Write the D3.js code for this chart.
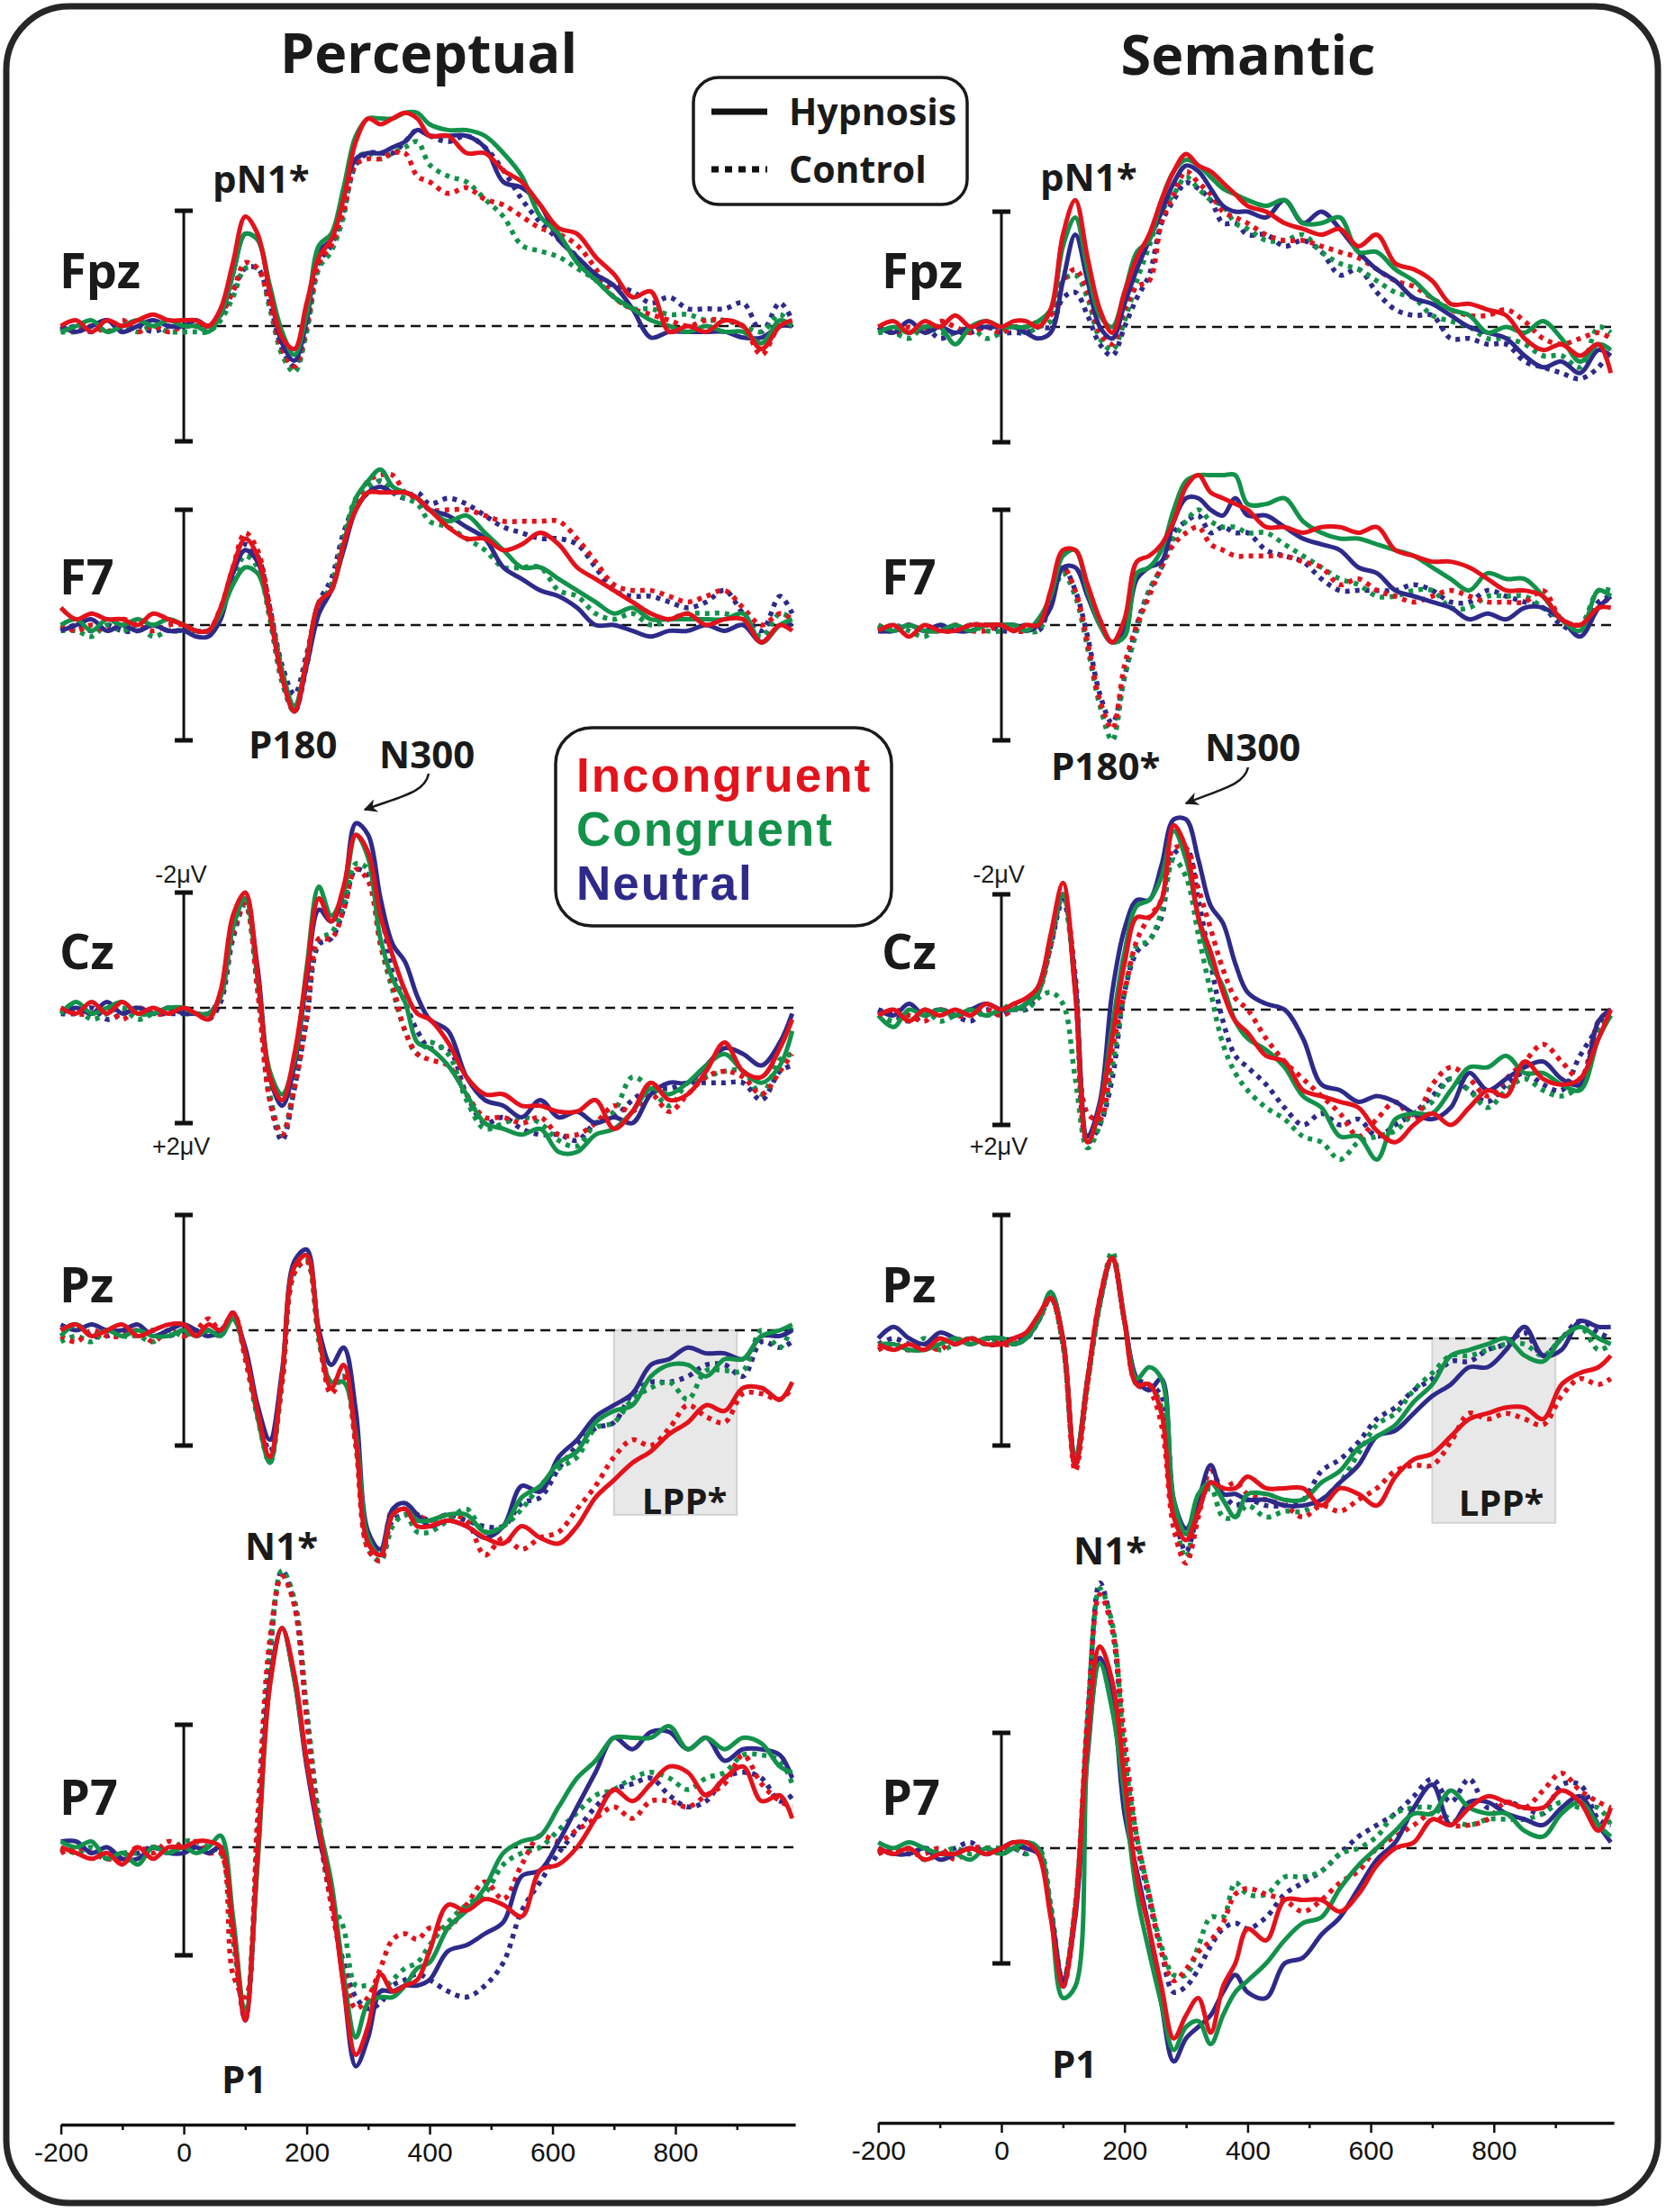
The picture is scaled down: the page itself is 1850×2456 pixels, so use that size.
<!DOCTYPE html>
<html>
<head>
<meta charset="utf-8">
<script src="https://cdn.jsdelivr.net/npm/d3@7"></script>
<style>
body { margin: 0; background: #fff; }
svg { display: block; }
</style>
</head>
<body>
<svg id="chart"></svg>
<script>
// sample times (ms) shared by every waveform
const times = [-200,-175,-150,-125,-100,-75,-50,-25,0,
  20,40,60,80,100,120,140,160,180,200,220,240,260,280,300,320,340,360,380,400,
  430,460,490,520,550,580,610,640,670,700,730,760,790,820,850,880,910,940,970,990]

const tasks = ["Perceptual", "Semantic"]
const electrodes = ["Fpz", "F7", "Cz", "Pz", "P7"]
const conditions = ["Incongruent", "Congruent", "Neutral"]
const groups = ["Hypnosis", "Control"]
const xTicks = [-200,-100,0,100,200,300,400,500,600,700,800,900]
const xLabels = ["-200", "0", "200", "400", "600", "800"]

// amplitudes in microvolts (negative plotted up)
// ---- Perceptual ----
const percFpzHypInc = [0,-0.1,0.1,-0.1,0,-0.1,-0.2,-0.1,-0.1,
  -0.1,0,-0.3,-1.1,-1.9,-1.6,-0.6,0.2,0.4,-0.4,-1.2,-1.5,-2.2,-3.2,-3.6,-3.5,-3.6,-3.7,-3.6,-3.3,
  -3.3,-3.0,-3.0,-2.7,-2.5,-2.1,-1.7,-1.6,-1.2,-0.9,-0.5,-0.6,0.1,0,0.1,-0.1,0,0.4,0,-0.1]
const percFpzHypCon = [0.1,0,-0.1,0.1,0,-0.1,0,-0.1,0,
  0,0.1,-0.2,-0.9,-1.6,-1.5,-0.7,0.1,0.5,-0.2,-1.4,-1.6,-2.4,-3.3,-3.6,-3.6,-3.6,-3.7,-3.7,-3.5,
  -3.4,-3.4,-3.3,-3.0,-2.6,-1.9,-1.6,-1.1,-0.8,-0.5,-0.3,-0.1,0,0.1,0,0.1,0.1,0.3,-0.1,0]
const percFpzHypNeu = [0,0.1,0,-0.1,0.1,0,-0.1,0,0,
  -0.1,0,-0.2,-0.9,-1.6,-1.5,-0.6,0.3,0.6,-0.1,-1.3,-1.5,-2.3,-2.9,-3.0,-3.0,-3.1,-3.2,-3.4,-3.3,
  -3.3,-3.3,-3.1,-2.5,-2.4,-2.1,-1.5,-1.2,-0.9,-0.7,-0.3,0.2,0.1,0.1,0.1,0.1,0.2,0.2,0,0]
const percFpzCtlInc = [0,0.1,0,0.1,-0.1,0.1,0,0.1,0,
  0,0,-0.2,-0.6,-1.1,-1.0,-0.4,0.4,0.7,0,-1.1,-1.4,-2.0,-2.8,-2.9,-2.9,-3.0,-3.0,-2.6,-2.5,
  -2.3,-2.4,-2.2,-2.1,-1.9,-1.7,-1.6,-1.4,-1.0,-0.5,-0.3,-0.2,-0.1,0,-0.1,-0.1,0,0.5,0,0]
const percFpzCtlCon = [0.1,0.1,0,0.1,0,0.1,0,0.1,0.1,
  0.1,0.1,-0.1,-0.5,-1.0,-1.0,-0.3,0.5,0.8,0.1,-1.0,-1.3,-1.9,-2.9,-3.0,-2.9,-3.0,-3.1,-3.2,-2.8,
  -2.6,-2.5,-2.2,-1.9,-1.4,-1.3,-1.2,-1.0,-0.8,-0.5,-0.3,-0.3,-0.2,-0.2,-0.1,-0.1,0,0.1,-0.2,0]
const percFpzCtlNeu = [0.1,0,0.1,-0.1,0.1,0,0.1,0,0,
  0,0,-0.2,-0.6,-1.0,-1.0,-0.4,0.4,0.7,0,-1.1,-1.4,-2.0,-2.8,-3.0,-3.0,-3.0,-3.2,-3.4,-3.3,
  -3.2,-3.3,-3.1,-2.7,-2.2,-1.8,-1.5,-1.2,-0.8,-0.7,-0.6,-0.4,-0.5,-0.3,-0.3,-0.3,-0.4,0.1,-0.4,-0.1]

const percF7HypInc = [-0.3,-0.1,-0.2,-0.1,-0.1,0,-0.2,-0.1,0,
  0.1,0.1,-0.3,-1.0,-1.5,-1.2,-0.2,0.9,1.5,0.6,-0.4,-0.6,-1.4,-2.0,-2.3,-2.3,-2.3,-2.3,-2.2,-2.0,
  -1.7,-1.5,-1.5,-1.3,-1.4,-1.6,-1.4,-1.0,-0.8,-0.6,-0.4,-0.2,-0.1,-0.2,0,-0.1,-0.1,0.3,0,0.1]
const percF7HypCon = [0,-0.1,0.1,-0.1,0,-0.1,0,-0.1,0,
  0.1,0.1,-0.2,-0.7,-1.0,-0.9,-0.2,0.8,1.4,0.6,-0.4,-0.6,-1.4,-2.2,-2.5,-2.7,-2.4,-2.3,-2.2,-2.0,
  -1.8,-1.9,-1.6,-1.3,-1.0,-1.0,-0.8,-0.6,-0.4,-0.2,-0.3,-0.1,-0.1,-0.1,-0.1,-0.1,-0.2,0.3,0,-0.1]
const percF7HypNeu = [0.1,0,-0.1,0.1,0,0.1,0,0.1,0.1,
  0.2,0.2,-0.1,-0.9,-1.3,-1.1,-0.2,0.9,1.5,0.7,-0.2,-0.6,-1.3,-2.0,-2.3,-2.4,-2.3,-2.3,-2.2,-2.0,
  -1.9,-1.7,-1.5,-1.0,-0.8,-0.6,-0.5,-0.3,0,0,0.1,0.2,0.1,0.1,0,0.1,0,0.3,0,0]
const percF7CtlInc = [0,0.1,0,0.1,-0.1,0,0.1,0,0,
  0.1,0.1,-0.3,-1.0,-1.6,-1.3,-0.3,0.8,1.5,0.7,-0.3,-0.6,-1.4,-2.1,-2.5,-2.6,-2.6,-2.3,-2.2,-2.0,
  -2.0,-2.0,-1.9,-1.8,-1.8,-1.8,-1.8,-1.5,-1.1,-0.7,-0.6,-0.6,-0.5,-0.4,-0.5,-0.6,-0.3,0,-0.2,-0.1]
const percF7CtlCon = [0.1,0.1,0.2,0,0.1,0,0.2,0.1,0.1,
  0.1,0.1,-0.2,-0.8,-1.2,-1.0,-0.1,1.0,1.5,0.6,-0.3,-0.7,-1.5,-2.2,-2.4,-2.5,-2.3,-2.2,-2.1,-1.8,
  -1.7,-1.5,-1.3,-1.0,-1.0,-1.0,-0.6,-0.5,-0.2,-0.1,-0.2,0,-0.1,-0.2,-0.2,-0.2,-0.1,0.2,-0.2,-0.1]
const percF7CtlNeu = [0.1,0,0.1,0,0.1,0.1,0,0.1,0.1,
  0.1,0.1,-0.2,-0.9,-1.4,-1.2,-0.3,0.7,1.2,0.5,-0.4,-0.8,-1.6,-2.1,-2.3,-2.5,-2.3,-2.2,-2.3,-2.1,
  -2.2,-2.1,-1.9,-1.7,-1.6,-1.5,-1.5,-1.4,-1.0,-0.6,-0.5,-0.5,-0.4,-0.3,-0.4,-0.6,-0.2,0.1,-0.5,-0.2]

const percCzHypInc = [0,0.1,-0.1,0.1,-0.1,0.1,0,0.1,0,
  0.1,0.2,-0.3,-1.6,-2.0,-0.6,1.2,1.6,0.8,-0.6,-1.9,-1.5,-2.1,-3.0,-2.7,-1.6,-0.9,-0.3,0.1,0.2,
  0.6,1.2,1.5,1.5,1.7,1.7,1.8,1.8,1.6,2.1,1.8,1.3,1.6,1.5,1.1,0.6,1.1,1.2,0.7,0.2]
const percCzHypCon = [0.1,-0.1,0.1,0,-0.1,0.1,0.1,0,0,
  0.1,0.1,-0.2,-1.4,-1.9,-0.5,1.1,1.5,0.9,-0.7,-2.1,-1.6,-2.0,-3.0,-2.6,-1.2,-0.5,-0.1,0.6,0.7,
  1.0,1.5,2.0,2.1,2.2,2.1,2.5,2.5,2.2,2.1,1.8,1.4,1.5,1.3,1.0,0.8,1.1,1.3,1.0,0.4]
const percCzHypNeu = [0.1,0,0.1,-0.1,0.1,0,0.1,0,0.1,
  0.1,0.1,-0.2,-1.4,-1.9,-0.7,1.2,1.7,1.0,-0.5,-1.7,-1.5,-2.0,-3.2,-3.0,-1.9,-1.1,-0.8,-0.2,0.2,
  0.4,1.2,1.6,1.7,1.9,1.6,1.9,1.8,2.0,1.9,2.0,1.5,1.3,1.3,1.0,0.7,0.8,1.0,0.6,0.1]
const percCzCtlInc = [0,0.1,0.1,0,0.2,0,0.1,0.1,0,
  0.1,0.1,-0.2,-1.3,-1.8,-0.3,1.6,2.2,1.4,0.2,-1.2,-1.2,-1.7,-2.4,-2.2,-1.1,-0.4,0.4,0.8,0.9,
  1.0,1.5,1.9,1.9,2.0,1.9,2.2,2.2,2.0,1.7,1.8,1.5,1.8,1.5,1.2,1.1,1.2,1.5,1.1,0.8]
const percCzCtlCon = [0.1,0,0.2,0.1,0,0.2,0.1,0,0.1,
  0.1,0.1,-0.2,-1.3,-1.8,-0.4,1.5,2.2,1.3,0.1,-1.2,-1.3,-1.8,-2.5,-2.4,-1.1,-0.3,0.4,0.8,0.6,
  0.8,1.6,2.1,2.0,1.9,2.0,2.3,2.4,2.0,1.8,1.2,1.4,1.7,1.3,1.2,1.1,1.1,1.5,0.9,0.8]
const percCzCtlNeu = [0.1,0.1,0,0.2,0.1,0,0.1,0.1,0.1,
  0.1,0.2,-0.1,-1.2,-1.8,-0.4,1.6,2.3,1.4,0.2,-1.1,-1.2,-1.7,-2.4,-2.3,-1.7,-0.6,-0.1,0.4,0.7,
  0.7,1.5,2.0,1.9,2.1,2.2,2.2,2.3,2.0,1.9,1.6,1.4,1.4,1.3,1.3,1.3,1.3,1.6,1.1,1.0]

const percPzHypInc = [0,-0.1,0.1,0,-0.1,0.1,0,-0.1,-0.1,
  0.1,-0.1,0,-0.3,0.4,1.4,2.2,0.8,-1.1,-1.3,0.1,1.0,0.6,1.9,3.7,3.9,3.2,3.1,3.4,3.4,
  3.3,3.4,3.6,3.7,3.4,3.6,3.7,3.4,2.9,2.6,2.3,2.1,1.8,1.6,1.3,1.4,1.0,1.0,1.2,0.9]
const percPzHypCon = [0.1,-0.1,0.1,0,0.1,0,0.1,0.1,0,
  0.1,0,0.1,-0.2,0.4,1.5,2.3,0.8,-1.1,-1.3,0.1,0.9,0.9,1.8,3.6,3.9,3.2,3.1,3.3,3.3,
  3.2,3.2,3.5,3.4,2.9,2.7,2.3,2.1,1.6,1.4,1.3,0.8,0.6,0.6,0.8,0.5,0.5,0.1,0,-0.1]
const percPzHypNeu = [-0.1,0,-0.1,0,0,-0.1,0.1,0,-0.1,
  0,0.1,0,-0.2,0.3,1.3,1.9,0.7,-1.2,-1.4,0,0.6,0.3,1.4,3.5,3.8,3.1,3.0,3.2,3.4,
  3.3,3.4,3.6,3.4,2.7,2.8,2.2,1.9,1.5,1.3,1.1,0.6,0.5,0.3,0.4,0.4,0.5,0.1,0.1,0]
const percPzCtlInc = [0.1,0.2,0,0.1,0.1,0,0.2,0,0.1,
  0,-0.2,0,-0.3,0.5,1.5,2.2,0.9,-1.0,-1.2,0.1,1.1,0.8,2.0,3.8,4.0,3.1,3.1,3.2,3.3,
  3.2,3.3,3.9,3.6,3.8,3.6,3.5,3.1,2.7,2.2,1.9,2.0,1.7,1.3,1.5,1.6,1.1,1.1,1.2,1.0]
const percPzCtlCon = [0.2,0.1,0.2,0,0.1,0.1,0.2,0,0.1,
  0,0.1,0,-0.2,0.4,1.5,2.3,0.9,-1.0,-1.2,0.2,1.0,0.8,2.0,3.8,4.0,3.4,3.2,3.5,3.5,
  3.3,3.1,3.5,3.4,3.1,2.7,2.4,2.2,1.7,1.6,1.2,1.0,0.9,1.2,0.7,0.7,0.7,0,0.3,-0.1]
const percPzCtlNeu = [0,-0.1,0.1,0.1,0,0.1,0,0.1,0,
  0.1,0,0.1,-0.3,0.4,1.4,2.1,0.9,-1.0,-1.2,0.1,0.9,0.8,1.9,3.6,3.9,3.3,3.2,3.2,3.3,
  3.2,3.3,3.4,3.4,3.0,2.9,2.4,2.0,1.7,1.6,1.1,0.9,0.9,0.8,0.6,0.6,0.8,0.2,0.3,0.2]

const percP7HypInc = [0,0.1,0.2,0.1,0.3,0,0.2,0,0,
  -0.1,-0.1,0,1.4,3.0,0.1,-2.8,-3.8,-3.0,-1.5,-0.3,0.8,2.4,3.6,3.1,2.2,2.5,2.4,2.3,1.8,
  1.0,1.1,0.9,1.0,1.2,0.4,0.3,0,-0.5,-1.0,-0.8,-1.1,-1.4,-1.3,-0.9,-1.2,-1.4,-0.8,-0.9,-0.5]
const percP7HypCon = [-0.1,0,-0.1,0.2,0.1,0.3,0,0.1,0,
  0.1,0,-0.2,1.2,2.9,0.3,-2.8,-3.8,-2.9,-1.5,-0.4,0.6,2.2,3.3,2.7,2.6,2.6,2.4,2.1,2.0,
  1.4,1.1,0.7,0.1,-0.1,-0.2,-0.7,-1.2,-1.5,-1.9,-1.9,-1.9,-2.1,-1.7,-1.9,-1.7,-1.9,-1.8,-1.4,-1.3]
const percP7HypNeu = [-0.1,-0.1,0.1,0,0.2,0.2,0,0.1,0.1,
  0,0.1,0,1.3,3.0,0.2,-2.9,-3.8,-2.9,-1.4,-0.2,0.8,2.4,3.8,3.3,2.5,2.5,2.4,2.4,2.3,
  1.8,1.7,1.5,1.3,0.5,0.4,-0.1,-0.7,-1.3,-1.9,-1.7,-2.0,-2.0,-1.7,-1.9,-1.5,-1.7,-1.7,-1.6,-1.2]
const percP7CtlInc = [0.1,0,0.1,0.2,0.2,0,0.1,-0.1,0,
  -0.1,0.1,0.1,2.2,2.6,-0.5,-3.6,-4.7,-4.2,-2.2,-0.3,1.0,2.1,2.8,2.6,2.1,1.6,1.5,1.6,1.4,
  1.4,1.0,0.6,0.9,0.3,-0.2,-0.1,-0.3,-0.5,-0.7,-0.5,-0.8,-0.8,-0.7,-0.9,-1.1,-1.6,-1.1,-0.8,-0.7]
const percP7CtlCon = [0,0.1,0,0.2,0.1,0.1,0,0.1,-0.1,
  -0.1,0,0.1,1.6,2.9,-0.2,-3.4,-4.8,-4.3,-2.4,-0.5,0.9,1.4,2.4,2.4,2.5,2.3,2.1,2.0,1.7,
  1.3,1.0,0.8,0.3,0.1,0,-0.3,-0.6,-0.9,-1.0,-1.2,-1.3,-1.2,-1.0,-1.2,-1.3,-1.6,-1.6,-1.5,-1.1]
const percP7CtlNeu = [0.1,0,0.1,0.1,0.2,0.1,0,0.1,0,
  0,0.1,0,1.5,3.0,0,-3.3,-4.8,-4.2,-2.3,-0.4,1.0,2.0,2.6,2.8,2.7,2.4,2.3,2.2,2.3,
  2.5,2.6,2.4,2.0,1.1,0.6,0.1,-0.3,-0.7,-1.0,-1.1,-1.2,-0.9,-0.7,-0.8,-1.2,-1.3,-1.2,-0.8,-0.9]

// ---- Semantic ----
const semFpzHypInc = [0,-0.1,0.1,-0.1,0,-0.2,0,-0.1,0,
  -0.1,-0.1,0,-0.3,-1.6,-2.2,-1.2,-0.3,0.1,-0.6,-1.2,-1.6,-2.2,-2.7,-3.0,-2.8,-2.7,-2.5,-2.3,-2.1,
  -2.0,-1.8,-1.7,-1.6,-1.7,-1.4,-1.6,-1.1,-1.0,-0.8,-0.4,-0.4,-0.3,-0.2,0.2,0.4,0.3,0.5,0.3,0.8]
const semFpzHypCon = [0.1,0,0.1,0,0,0.3,0,-0.1,0,
  0,0,-0.1,-0.3,-1.4,-1.9,-1.0,-0.2,0,-0.6,-1.3,-1.5,-2.2,-2.7,-2.9,-2.8,-2.6,-2.4,-2.3,-2.2,
  -2.1,-2.2,-1.8,-1.8,-1.9,-1.3,-1.3,-1.0,-0.8,-0.5,-0.3,-0.2,0.1,0,0.1,-0.1,0.2,0.6,0.3,0.4]
const semFpzHypNeu = [0,0.1,-0.1,0.1,0,0.1,0,0,0,
  0,0.1,0.2,0.1,-0.8,-1.6,-0.8,0,0.2,-0.4,-1.0,-1.5,-2.0,-2.5,-2.8,-2.7,-2.4,-2.1,-2.0,-2.0,
  -1.9,-2.2,-1.8,-2.0,-1.7,-1.3,-1.0,-0.8,-0.5,-0.4,-0.2,0,0.1,0.2,0.5,0.7,0.6,0.8,0.4,0.5]
const semFpzCtlInc = [0,0.1,0,0.1,-0.1,0,0.1,0,0.1,
  0,0,-0.1,-0.2,-0.8,-1.0,-0.6,0.1,0.3,-0.3,-0.7,-0.8,-1.8,-2.3,-2.7,-2.5,-2.3,-2.0,-1.9,-1.8,
  -1.6,-1.5,-1.5,-1.4,-1.3,-1.2,-1.0,-0.8,-0.7,-0.5,-0.3,-0.2,-0.2,-0.3,-0.1,0.2,0.3,0.2,0.1,0.2]
const semFpzCtlCon = [0.1,0.1,0.2,0,0.1,0.1,0,0.2,0.1,
  0,0.1,0,-0.1,-0.8,-0.9,-0.5,0.2,0.4,-0.1,-0.8,-1.4,-2.0,-2.3,-2.6,-2.4,-2.2,-2.1,-1.8,-1.7,
  -1.5,-1.5,-1.6,-1.3,-1.1,-1.0,-0.8,-0.6,-0.5,-0.2,-0.1,0,0.2,0.2,0.3,0.5,0.5,0.7,0,0.1]
const semFpzCtlNeu = [0,0.1,0.1,0,0.2,0.1,0.1,0,0.1,
  0.1,0.1,0,0,-0.5,-0.6,-0.2,0.3,0.5,0,-0.5,-0.9,-1.8,-2.2,-2.5,-2.4,-2.2,-1.8,-1.8,-1.6,
  -1.6,-1.4,-1.5,-1.3,-0.9,-1.0,-0.6,-0.3,-0.2,-0.2,0.2,0.2,0.3,0.3,0.6,0.7,0.8,0.9,0.7,0.4]

const semF7HypInc = [0.1,0,0.2,0,0.1,0.1,0,0,0,
  0.1,0,0,-0.6,-1.3,-1.3,-0.7,-0.1,0.3,-0.1,-1.1,-1.2,-1.4,-1.8,-2.4,-2.6,-2.3,-2.2,-2.1,-2.0,
  -1.7,-1.7,-1.6,-1.7,-1.7,-1.6,-1.7,-1.3,-1.2,-1.1,-1.1,-1.0,-0.8,-0.6,-0.6,-0.5,-0.1,0,-0.3,-0.3]
const semF7HypCon = [0,0.1,0,0.1,0.1,0,0.1,0,0,
  0,0.1,-0.1,-0.5,-1.2,-1.3,-0.6,0,0.3,0.2,-0.9,-1.0,-1.3,-2.0,-2.5,-2.6,-2.6,-2.6,-2.6,-2.1,
  -2.1,-2.2,-1.8,-1.6,-1.5,-1.5,-1.4,-1.3,-1.2,-1.0,-0.8,-0.6,-0.9,-0.8,-0.8,-0.5,-0.1,0.1,-0.6,-0.5]
const semF7HypNeu = [0.1,0.1,0,0.1,0,0.1,0.1,0,0,
  0,0.1,0,-0.3,-1.0,-1.0,-0.5,0,0.3,0.1,-0.8,-1.0,-1.1,-1.8,-2.2,-2.2,-2.0,-1.9,-2.2,-1.9,
  -1.9,-1.7,-1.5,-1.4,-1.3,-1.0,-0.9,-0.6,-0.5,-0.4,-0.3,-0.1,-0.2,-0.1,-0.3,-0.3,-0.1,0.2,-0.3,-0.5]
const semF7CtlInc = [0,0.1,0,0.1,0.1,0,0.1,0.1,0,
  0.1,0.1,0,-0.5,-1.0,-0.6,0.3,1.3,1.8,0.7,0,-0.5,-1.0,-1.4,-1.6,-1.7,-1.4,-1.3,-1.2,-1.2,
  -1.2,-1.2,-1.1,-1.0,-0.7,-0.8,-0.6,-0.5,-0.4,-0.5,-0.6,-0.5,-0.4,-0.4,-0.4,-0.6,-0.1,0,-0.3,-0.5]
const semF7CtlCon = [0.1,0,0.1,0.2,0,0.1,0,0.1,0.1,
  0,0.1,0.1,-0.4,-0.9,-0.5,0.4,1.4,2.0,0.9,0.1,-0.6,-1.0,-1.5,-1.8,-2.0,-1.8,-1.7,-1.7,-1.6,
  -1.6,-1.4,-1.2,-1.0,-0.8,-0.7,-0.5,-0.5,-0.6,-0.6,-0.3,-0.3,-0.5,-0.5,-0.5,-0.3,-0.1,0,-0.6,-0.6]
const semF7CtlNeu = [0.1,0.1,0,0.1,0.1,0.1,0,0,0.1,
  0.1,0,0.1,-0.4,-1.0,-0.6,0.2,1.2,1.7,0.9,0,-0.6,-1.0,-1.6,-1.8,-1.9,-1.6,-1.7,-1.6,-1.6,
  -1.3,-1.2,-1.1,-0.8,-0.6,-0.6,-0.6,-0.6,-0.7,-0.6,-0.4,-0.4,-0.6,-0.5,-0.4,-0.3,0,0.1,-0.4,-0.5]

const semCzHypInc = [0.1,0,0.2,0,0.1,0,0.1,-0.1,0,
  -0.1,-0.2,-0.4,-1.3,-2.2,-0.3,2.3,1.7,0.5,-0.8,-1.6,-1.6,-1.9,-3.2,-2.8,-1.6,-1.0,-0.3,0.2,0.4,
  0.8,0.9,1.4,1.5,1.6,1.7,2.1,2.3,2.0,1.8,2.0,1.7,1.4,1.5,0.9,1.2,1.3,1.2,0.5,0]
const semCzHypCon = [0.1,0.3,0,0.1,0,0.1,0,0.1,0,
  0,-0.1,-0.3,-1.2,-2.0,-0.3,2.3,1.7,0.3,-1.0,-1.8,-1.9,-2.3,-3.1,-2.6,-1.6,-0.8,-0.4,0.2,0.5,
  0.7,1.0,1.5,1.7,2.2,2.2,2.6,1.9,1.8,1.8,1.4,1.0,1.0,0.8,1.1,1.1,1.3,1.4,0.5,0.1]
const semCzHypNeu = [0,0.1,-0.1,0.1,0,0.1,0,-0.1,0,
  0,-0.1,-0.4,-1.2,-2.0,-0.5,2.2,1.6,-0.3,-1.4,-1.9,-1.9,-2.5,-3.3,-3.3,-2.6,-1.8,-1.5,-0.8,-0.3,
  -0.1,0,0.5,1.3,1.4,1.6,1.5,1.6,1.8,1.9,1.7,1.1,1.4,1.2,1.0,0.9,1.2,1.3,0.2,0]
const semCzCtlInc = [0.1,0,0.1,0.2,0,0.1,0.1,0,0.1,
  0,-0.1,-0.3,-1.1,-2.0,-0.6,1.8,1.9,0.7,-0.3,-1.2,-1.6,-1.9,-2.8,-2.8,-2.1,-1.4,-0.7,-0.2,0,
  0.5,0.9,1.2,1.5,1.8,2.2,1.9,1.6,1.9,1.3,1.0,1.2,1.5,1.2,0.9,0.6,0.9,1.2,0.2,0]
const semCzCtlCon = [0.1,0.2,0.1,0,0.2,0.1,0,0.1,0,
  -0.1,0,-0.2,-0.3,-0.1,1.2,2.4,2.0,1.0,-0.3,-1.1,-1.2,-1.7,-2.6,-2.3,-1.3,-0.3,0.6,1.1,1.4,
  1.7,1.9,2.2,2.3,2.6,2.3,2.2,2.1,1.8,1.6,1.2,1.4,1.7,1.4,1.2,1.4,1.5,1.3,0.4,0.1]
const semCzCtlNeu = [0,0.1,0.2,0.1,0,0.1,0.2,0,0.1,
  0,0,-0.3,-1.1,-1.9,-0.4,2.3,2.0,1.2,-0.3,-1.0,-1.2,-1.6,-2.7,-2.8,-1.9,-0.8,0.2,0.8,1.0,
  1.3,1.7,2.0,1.8,2.0,1.9,2.2,2.0,1.8,1.5,1.2,1.4,1.6,1.3,1.1,1.3,1.4,0.8,0.3,0]

const semPzHypInc = [0.1,0.2,0.1,0.2,0,0.1,0,0.1,0.1,
  0,-0.1,-0.4,-0.7,0,2.2,0.7,-0.7,-1.4,-0.3,0.8,0.8,1.3,3.1,3.5,3.0,2.5,2.6,2.6,2.4,
  2.6,2.6,2.6,2.9,2.6,2.7,2.9,2.4,2.1,2.0,1.7,1.4,1.3,1.2,1.2,1.4,0.8,0.6,0.5,0.3]
const semPzHypCon = [0.1,0.1,0.2,0.2,0.1,0,0.1,0,0,
  0.1,0,-0.3,-0.8,0,2.1,0.7,-0.6,-1.4,-0.3,0.7,0.5,0.7,2.8,3.4,2.7,2.5,2.8,3.1,2.7,
  2.7,2.8,2.8,2.5,2.3,1.9,1.7,1.5,1.1,0.8,0.3,0.2,0.1,0,0.3,0.4,0,-0.2,0,0.1]
const semPzHypNeu = [0,-0.2,0,0.1,-0.1,0,0.1,0,0,
  0.1,0,-0.3,-0.8,0,2.1,0.7,-0.6,-1.4,-0.3,0.7,0.9,0.7,2.8,3.3,2.8,2.2,2.7,2.7,2.8,
  2.8,2.9,2.9,2.8,2.5,2.2,1.7,1.6,1.3,1.0,0.8,0.5,0.5,0.2,-0.2,0.3,0.2,-0.3,-0.2,-0.2]
const semPzCtlInc = [0.2,0.1,0.2,0.1,0.2,0,0.1,0,0.1,
  0.1,-0.1,-0.3,-0.7,0.1,2.3,0.8,-0.7,-1.4,-0.3,0.8,0.9,1.5,3.3,3.9,3.1,2.3,2.6,2.5,2.7,
  2.8,2.9,3.1,2.9,3.0,2.8,2.6,2.3,2.2,2.2,1.8,1.3,1.4,1.3,1.4,1.5,1.0,0.7,0.8,0.7]
const semPzCtlCon = [0.2,0.1,0.2,0,0.2,0.1,0,0.1,0,
  0.1,0,-0.3,-0.7,0.1,2.2,0.8,-0.6,-1.5,-0.3,0.8,0.8,1.2,3.0,3.8,2.9,2.6,3.1,3.1,2.9,
  3.1,3.0,3.0,2.8,2.5,2.0,1.5,1.3,0.9,0.6,0.3,0.3,0.2,0.1,0.1,0.3,0,-0.2,0.2,0.1]
const semPzCtlNeu = [0.1,0,0.1,0.1,0,0.1,0,0.1,0.1,
  0,0,-0.3,-0.7,0.1,2.2,0.7,-0.6,-1.4,-0.3,0.7,0.8,1.0,2.9,3.7,3.0,2.5,2.7,2.9,2.8,
  2.9,2.9,2.8,2.3,2.1,1.8,1.4,1.2,0.9,0.7,0.4,0.4,0.2,0.1,-0.1,0.3,0,-0.3,-0.1,0]

const semP7HypInc = [0,0.1,0,0.2,0.1,0.1,0,0.1,0,
  -0.1,-0.1,0.1,1.2,2.4,1.1,-1.9,-3.5,-2.9,-1.2,0.5,1.4,2.4,3.3,2.9,2.6,3.2,2.4,2.0,1.4,
  1.6,0.9,0.9,0.9,1.1,0.8,0.3,0,-0.1,-0.5,-0.4,-0.7,-0.9,-0.8,-0.7,-0.7,-1.0,-0.8,-0.3,-0.7]
const semP7HypCon = [-0.1,0,-0.1,0,0.1,0.1,0.2,0,0.1,
  0,-0.1,0,1.1,2.6,2.4,-1.7,-3.2,-2.4,-0.9,0.8,1.8,2.7,3.5,3.1,3.0,3.4,2.9,2.5,2.3,
  2.0,1.6,1.3,1.2,0.7,0.3,0,-0.3,-0.6,-0.6,-1.0,-0.7,-0.6,-0.6,-0.3,-0.2,-0.6,-0.8,-0.4,-0.2]
const semP7HypNeu = [0,0.1,0.1,0,0.2,0.1,0,0.1,0,
  -0.1,0,0.1,1.1,2.3,1.2,-1.6,-3.3,-2.6,-0.6,0.4,1.4,2.7,3.7,3.3,3.1,2.9,2.5,2.2,2.5,
  2.6,2.0,1.9,1.5,1.2,0.7,0.2,-0.1,-0.7,-1.1,-0.4,-0.8,-0.8,-0.6,-0.5,-0.4,-0.7,-0.9,-0.4,-0.1]
const semP7CtlInc = [0.1,0,0.1,0.1,0,0.2,0,0,0.1,
  0,0,0.1,1.1,2.3,1.0,-2.3,-4.4,-3.8,-1.9,-0.2,0.8,1.8,2.3,2.1,1.8,1.6,1.3,0.8,0.7,
  0.8,0.9,1.1,0.9,0.6,0.4,0,-0.2,-0.4,-0.6,-0.4,-0.4,-0.5,-0.8,-0.7,-1.0,-1.3,-1.0,-0.8,-0.7]
const semP7CtlCon = [0,0.1,0,0.2,0.1,0,0.1,0,0,
  0,0.1,0,1.0,2.3,1.0,-2.2,-4.5,-3.9,-1.6,-0.2,0.8,1.7,2.2,2.2,1.7,1.2,1.2,0.6,0.8,
  0.8,0.5,0.5,0.4,0.1,0,-0.2,-0.6,-0.7,-0.7,-0.5,-0.4,-0.5,-0.5,-0.5,-0.6,-0.8,-0.7,-0.7,-0.4]
const semP7CtlNeu = [0.1,0,0.1,0,0.1,0,-0.1,0.1,0,
  0,0.1,0,1.0,2.4,1.1,-2.2,-4.6,-3.8,-1.7,-0.1,0.9,1.8,2.5,2.4,2.1,1.7,1.4,1.3,1.4,
  1.2,0.8,0.6,0.4,0.1,-0.2,-0.4,-0.6,-0.9,-1.2,-0.8,-1.2,-0.7,-0.8,-0.7,-0.6,-1.1,-1.1,-0.5,-0.4]

// lookup table: task -> electrode -> group -> condition
const waves = {
  Perceptual: {
    Fpz: {Hypnosis: {Incongruent: percFpzHypInc, Congruent: percFpzHypCon, Neutral: percFpzHypNeu},
          Control:  {Incongruent: percFpzCtlInc, Congruent: percFpzCtlCon, Neutral: percFpzCtlNeu}},
    F7:  {Hypnosis: {Incongruent: percF7HypInc, Congruent: percF7HypCon, Neutral: percF7HypNeu},
          Control:  {Incongruent: percF7CtlInc, Congruent: percF7CtlCon, Neutral: percF7CtlNeu}},
    Cz:  {Hypnosis: {Incongruent: percCzHypInc, Congruent: percCzHypCon, Neutral: percCzHypNeu},
          Control:  {Incongruent: percCzCtlInc, Congruent: percCzCtlCon, Neutral: percCzCtlNeu}},
    Pz:  {Hypnosis: {Incongruent: percPzHypInc, Congruent: percPzHypCon, Neutral: percPzHypNeu},
          Control:  {Incongruent: percPzCtlInc, Congruent: percPzCtlCon, Neutral: percPzCtlNeu}},
    P7:  {Hypnosis: {Incongruent: percP7HypInc, Congruent: percP7HypCon, Neutral: percP7HypNeu},
          Control:  {Incongruent: percP7CtlInc, Congruent: percP7CtlCon, Neutral: percP7CtlNeu}}
  },
  Semantic: {
    Fpz: {Hypnosis: {Incongruent: semFpzHypInc, Congruent: semFpzHypCon, Neutral: semFpzHypNeu},
          Control:  {Incongruent: semFpzCtlInc, Congruent: semFpzCtlCon, Neutral: semFpzCtlNeu}},
    F7:  {Hypnosis: {Incongruent: semF7HypInc, Congruent: semF7HypCon, Neutral: semF7HypNeu},
          Control:  {Incongruent: semF7CtlInc, Congruent: semF7CtlCon, Neutral: semF7CtlNeu}},
    Cz:  {Hypnosis: {Incongruent: semCzHypInc, Congruent: semCzHypCon, Neutral: semCzHypNeu},
          Control:  {Incongruent: semCzCtlInc, Congruent: semCzCtlCon, Neutral: semCzCtlNeu}},
    Pz:  {Hypnosis: {Incongruent: semPzHypInc, Congruent: semPzHypCon, Neutral: semPzHypNeu},
          Control:  {Incongruent: semPzCtlInc, Congruent: semPzCtlCon, Neutral: semPzCtlNeu}},
    P7:  {Hypnosis: {Incongruent: semP7HypInc, Congruent: semP7HypCon, Neutral: semP7HypNeu},
          Control:  {Incongruent: semP7CtlInc, Congruent: semP7CtlCon, Neutral: semP7CtlNeu}}
  }
}

const width = 1850
const height = 2456
const colors = {Incongruent: "#e3121b", Congruent: "#12924a", Neutral: "#2e2a8a"}
const boldFont = "'Open Sans', 'DejaVu Sans', sans-serif"
const plainFont = "'Liberation Sans', Arial, sans-serif"

const layout = {
  Perceptual: {x0: 67.6, x1: 883.1, axisY: 2359, titleX: 476, titleY: 81, labelX: 66,
               base: [362, 694, 1119, 1477, 2051], barShift: [0, 0, 0, 0, -8]},
  Semantic:   {x0: 975.3, x1: 1792.1, axisY: 2357, titleX: 1386, titleY: 83, labelX: 979,
               base: [363, 694, 1121, 1486, 2052], barShift: [0, 0, 0, -9, 0]}
}
const labelY = [320, 660, 1076, 1446, 2015]
const pxPerUv = 64

const svg = d3.select("#chart")
    .attr("width", width)
    .attr("height", height)
    .attr("viewBox", [0, 0, width, height])

svg.append("defs").append("marker")
    .attr("id", "arrow")
    .attr("viewBox", "0 0 10 10")
    .attr("refX", 9).attr("refY", 5)
    .attr("markerWidth", 6).attr("markerHeight", 6)
    .attr("orient", "auto")
  .append("path")
    .attr("d", "M0,0 L10,5 L0,10 L3,5 z")
    .attr("fill", "#1a1a1a")

svg.append("rect")
    .attr("x", 7).attr("y", 7)
    .attr("width", 1834).attr("height", 2439)
    .attr("rx", 70)
    .attr("fill", "#fff")
    .attr("stroke", "#262626")
    .attr("stroke-width", 7)

function txt(g, s, x, y, size, opts = {}) {
  return g.append("text")
      .attr("x", x).attr("y", y)
      .attr("text-anchor", opts.anchor || "start")
      .style("font-family", opts.font || boldFont)
      .style("font-weight", opts.weight || 700)
      .style("font-size", size + "px")
      .style("letter-spacing", opts.spacing || null)
      .attr("fill", opts.fill || "#1a1a1a")
      .text(s)
}

tasks.forEach(task => {
  const L = layout[task]
  const x = d3.scaleLinear().domain([-200, 995]).range([L.x0, L.x1])
  const g = svg.append("g")

  txt(g, task, L.titleX, L.titleY, 61, {anchor: "middle"})

  electrodes.forEach((el, r) => {
    const base = L.base[r]
    const y = d3.scaleLinear().domain([-2, 2]).range([base - 2 * pxPerUv, base + 2 * pxPerUv])

    if (el === "Pz") {
      g.append("rect")
          .attr("x", x(700)).attr("y", y(0))
          .attr("width", x(900) - x(700))
          .attr("height", y(3.2) - y(0))
          .attr("fill", "#e8e8e8")
          .attr("stroke", "#d2d2d2")
          .attr("stroke-width", 2)
    }

    g.append("line")
        .attr("x1", x(0)).attr("x2", x(995))
        .attr("y1", y(0)).attr("y2", y(0))
        .attr("stroke", "#111")
        .attr("stroke-width", 2.5)
        .attr("stroke-dasharray", "11 7")

    // calibration bar, -2 to +2 uV
    const s = L.barShift[r]
    g.append("line")
        .attr("x1", x(0)).attr("x2", x(0))
        .attr("y1", y(-2) + s).attr("y2", y(2) + s)
        .attr("stroke", "#111").attr("stroke-width", 3)
    ;[-2, 2].forEach(v => g.append("line")
        .attr("x1", x(0) - 10).attr("x2", x(0) + 10)
        .attr("y1", y(v) + s).attr("y2", y(v) + s)
        .attr("stroke", "#111").attr("stroke-width", 5))

    txt(g, el, L.labelX, labelY[r], 54)

    const line = d3.line()
        .x((d, i) => x(times[i]))
        .y(d => y(d))
        .curve(d3.curveCatmullRom.alpha(0.5))

    ;["Control", "Hypnosis"].forEach(grp => {
      ;["Neutral", "Congruent", "Incongruent"].forEach(cond => {
        g.append("path")
            .datum(waves[task][el][grp][cond])
            .attr("fill", "none")
            .attr("stroke", colors[cond])
            .attr("stroke-width", grp === "Hypnosis" ? 5 : 5.5)
            .attr("stroke-dasharray", grp === "Hypnosis" ? null : "5 6")
            .attr("stroke-linejoin", "round")
            .attr("d", line)
      })
    })

    if (el === "Cz") {
      txt(g, "-2\u03bcV", x(0) - 3, 980, 27, {anchor: "middle", font: plainFont, weight: 400})
      txt(g, "+2\u03bcV", x(0) - 3, 1282, 27, {anchor: "middle", font: plainFont, weight: 400})
    }
  })

  const ax = g.append("g")
      .attr("transform", `translate(0,${L.axisY})`)
      .call(d3.axisBottom(x)
        .tickValues(xTicks)
        .tickSizeOuter(0)
        .tickFormat(d => xLabels.includes(String(d)) ? String(d) : ""))
  ax.select(".domain").attr("stroke", "#111").attr("stroke-width", 3.5)
  ax.selectAll(".tick line")
      .attr("stroke", "#111")
      .attr("stroke-width", 2.5)
      .attr("y2", d => d % 200 === 0 ? 11 : 6)
  ax.selectAll(".tick text")
      .attr("y", 20)
      .attr("fill", "#111")
      .style("font-family", plainFont)
      .style("font-size", "30px")
})

// component annotations
const notes = [
  ["pN1*", 236, 214], ["pN1*", 1155, 212],
  ["P180", 276, 842], ["N300", 421, 853],
  ["P180*", 1167, 866], ["N300", 1338, 845],
  ["N1*", 272, 1732], ["N1*", 1192, 1737],
  ["P1", 246, 2324], ["P1", 1168, 2307]
]
notes.forEach(([s, x, y]) => txt(svg, s, x, y, 42))
txt(svg, "LPP*", 760, 1681, 40, {anchor: "middle"})
txt(svg, "LPP*", 1667, 1683, 40, {anchor: "middle"})

;[["M476,859 C472,880 446,884 405,899"], ["M1386,852 C1381,872 1356,876 1317,892"]].forEach(([d]) =>
  svg.append("path")
      .attr("d", d)
      .attr("fill", "none")
      .attr("stroke", "#1a1a1a")
      .attr("stroke-width", 2.5)
      .attr("marker-end", "url(#arrow)"))

// legend: group line style
const lg1 = svg.append("g")
lg1.append("rect")
    .attr("x", 770).attr("y", 86).attr("width", 304).attr("height", 141).attr("rx", 28)
    .attr("fill", "#fff").attr("stroke", "#1a1a1a").attr("stroke-width", 3.5)
groups.forEach((grp, i) => {
  const yy = 124 + i * 64
  lg1.append("line")
      .attr("x1", 790).attr("x2", 852)
      .attr("y1", yy).attr("y2", yy)
      .attr("stroke", "#111")
      .attr("stroke-width", 7)
      .attr("stroke-dasharray", i === 0 ? null : "8 7")
  txt(lg1, grp, 876, yy + 15, 41)
})

// legend: condition colours
const lg2 = svg.append("g")
lg2.append("rect")
    .attr("x", 617).attr("y", 808).attr("width", 373).attr("height", 220).attr("rx", 40)
    .attr("fill", "#fff").attr("stroke", "#1a1a1a").attr("stroke-width", 3.5)
conditions.forEach((c, i) => txt(lg2, c, 640, 879 + i * 60, 53,
    {fill: colors[c], font: plainFont, spacing: "2px"}))
</script>
</body>
</html>
